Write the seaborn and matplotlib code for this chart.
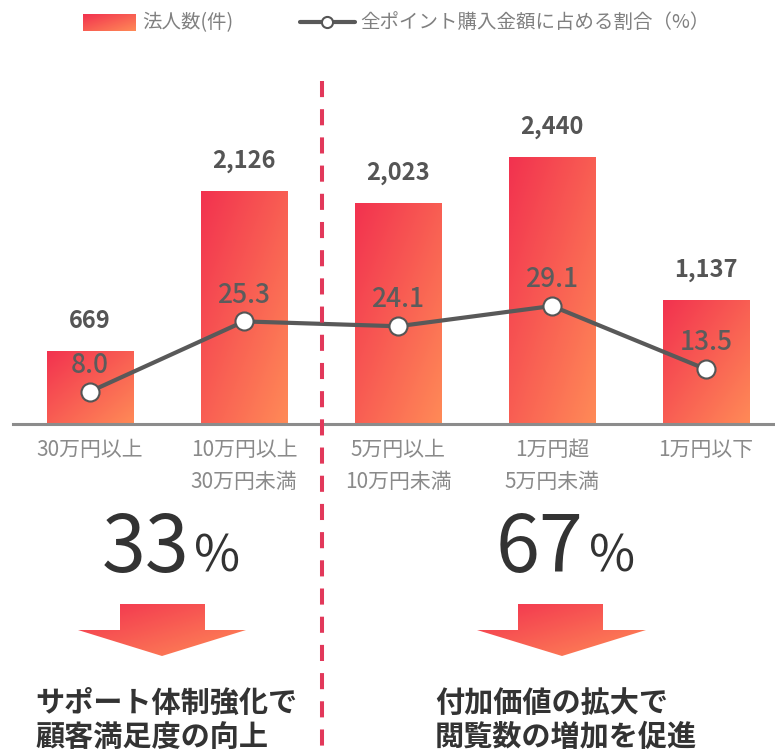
import numpy as np
import pandas as pd
import matplotlib.pyplot as plt
import seaborn as sns
from matplotlib.colors import LinearSegmentedColormap
from matplotlib.patches import Polygon, Rectangle

# === DATA ===
tiers = ["30万円以上", "10万円以上\n30万円未満", "5万円以上\n10万円未満",
         "1万円超\n5万円未満", "1万円以下"]
corp_counts = [669, 2126, 2023, 2440, 1137]
point_share = [8.0, 25.3, 24.1, 29.1, 13.5]
legend_labels = ["法人数(件)", "全ポイント購入金額に占める割合（%）"]
group_shares = ["33", "67"]
group_notes = [["サポート体制強化で", "顧客満足度の向上"],
               ["付加価値の拡大で", "閲覧数の増加を促進"]]

# === STYLE ===
sns.set_theme(style="white")
plt.rcParams["font.family"] = ["Noto Sans CJK JP", "DejaVu Sans"]

W, H = 775, 753
fig = plt.figure(figsize=(W / 100, H / 100), dpi=100)
grad = LinearSegmentedColormap.from_list("grad", ["#f2324f", "#ff8a57"])


def gradient_fill(ax, extent, clip, zorder):
    # diagonal gradient: top-left crimson -> bottom-right orange
    n = 64
    xx, yy = np.meshgrid(np.linspace(0, 1, n), np.linspace(0, 1, n))
    im = ax.imshow((xx + yy) / 2, cmap=grad, vmin=0, vmax=1, extent=extent,
                   origin="upper", aspect="auto", interpolation="bilinear",
                   zorder=zorder)
    im.set_clip_path(clip)
    return im


# === MAIN CHART ===
ax = fig.add_axes([13 / W, (H - 424) / H, (W - 13) / W, 324 / H])
df = pd.DataFrame({"tier": tiers, "count": corp_counts, "share": point_share})
sns.barplot(data=df, x="tier", y="count", color="#f2324f", width=0.56, ax=ax)

for bar in ax.patches:
    x0, y0 = bar.get_x(), bar.get_y()
    w, h = bar.get_width(), bar.get_height()
    gradient_fill(ax, (x0, x0 + w, y0, y0 + h), bar, 1.5)
    bar.set_facecolor("none")
    bar.set_edgecolor("none")

ax.bar_label(ax.containers[0], labels=[f"{v:,}" for v in corp_counts],
             padding=13, fontsize=17, fontweight="bold", color="#555555")

ax.set_xlim(-0.5, 4.448)
ax.set_ylim(0, 2961)
ax.set_xticks(range(len(tiers)))
ax.set_xticklabels(tiers, fontsize=15, color="#8a8a8a", linespacing=1.55)
ax.tick_params(axis="x", length=0, pad=11)
ax.set_yticks([])
ax.set_xlabel("")
ax.set_ylabel("")
for side in ["left", "right", "top"]:
    ax.spines[side].set_visible(False)
ax.spines["bottom"].set_color("#8c8c8c")
ax.spines["bottom"].set_linewidth(2.2)

# line on secondary scale
ax2 = ax.twinx()
sns.lineplot(x=np.arange(len(tiers)), y=point_share, ax=ax2, color="#595959",
             lw=3, marker="o", markersize=13, markerfacecolor="white",
             markeredgecolor="#555555", markeredgewidth=1.5)
ax2.set_ylim(0, 79.9)
ax2.axis("off")
for i, v in enumerate(point_share):
    ax2.annotate(f"{v:.1f}", (i, v), xytext=(0, 19), textcoords="offset points",
                 ha="center", va="center", fontsize=19, fontweight="medium",
                 color="#5c5c5c")

# === OVERLAY (legend, divider, summary) ===
ov = fig.add_axes([0, 0, 1, 1])
ov.set_xlim(0, W)
ov.set_ylim(H, 0)
ov.axis("off")

ov.plot([322, 322], [81, H], color="#e2385a", lw=2.9, dashes=(4, 3),
        dash_capstyle="butt")

# legend
rect = Rectangle((83, 14), 53, 17, facecolor="none", edgecolor="none")
ov.add_patch(rect)
gradient_fill(ov, (83, 136, 31, 14), rect, 2)
ov.text(142, 22.5, legend_labels[0], ha="left", va="center", fontsize=14,
        color="#808080")
ov.plot([300, 355], [22, 22], color="#595959", lw=3)
ov.plot([327], [22], marker="o", ms=8, mfc="white", mec="#555555", mew=1.5)
ov.text(360, 22.5, legend_labels[1], ha="left", va="center", fontsize=14,
        color="#808080")

# summary blocks
num_right = [189, 584]
arrow_x = [(78, 120, 205, 246, 162), (477, 518, 603, 646, 562)]
note_left = [35, 435]
for k in range(2):
    ov.text(num_right[k], 572, group_shares[k], ha="right", va="baseline",
            fontsize=57, fontweight="normal", color="#333333")
    ov.text(num_right[k] + 5, 572, "%", ha="left", va="baseline",
            fontsize=36, fontweight="normal", color="#333333")

    hl, sl, sr, hr, tip = arrow_x[k]
    arrow = Polygon([(sl, 604), (sr, 604), (sr, 630), (hr, 630), (tip, 656),
                     (hl, 630), (sl, 630)], closed=True,
                    facecolor="none", edgecolor="none")
    ov.add_patch(arrow)
    gradient_fill(ov, (hl, hr, 656, 604), arrow, 2)

    for j, line in enumerate(group_notes[k]):
        ov.text(note_left[k], 703 + 34 * j, line, ha="left", va="center",
                fontsize=21, fontweight="bold", color="#333333")

fig.savefig("out.png", dpi=100)
